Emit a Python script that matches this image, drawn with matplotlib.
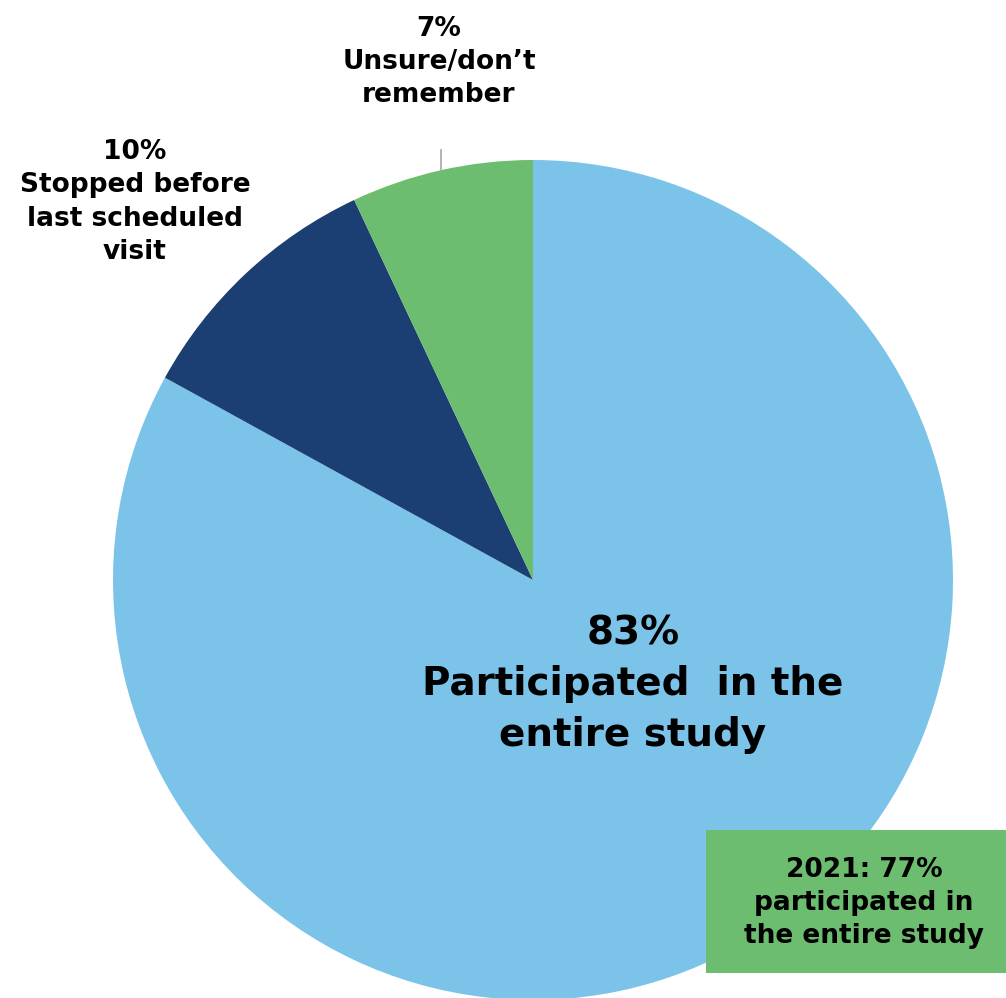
import matplotlib
matplotlib.use("Agg")
import matplotlib.pyplot as plt
from matplotlib.patches import Rectangle

# Data
categories = ["Participated  in the\nentire study", "Stopped before\nlast scheduled\nvisit", "Unsure/don\u2019t\nremember"]
values = [83, 10, 7]
colors = ["#7CC3E9", "#1C3F73", "#6CBD6F"]
note_text = "2021: 77%\nparticipated in\nthe entire study"

W, H = 1006, 998
fig = plt.figure(figsize=(W / 100, H / 100), dpi=100)
ax = fig.add_axes([0, 0, 1, 1])

cx, cy, r = 533, H - 580, 420
ax.pie(values, colors=colors, startangle=90, counterclock=False,
       center=(cx, cy), radius=r, frame=True,
       wedgeprops=dict(linewidth=0))
ax.set_xlim(0, W)
ax.set_ylim(0, H)
ax.set_aspect("equal")
ax.axis("off")

font = ["DejaVu Sans"]

# main label
ax.text(633, H - 684, f"{values[0]}%\n{categories[0]}", ha="center", va="center",
        fontsize=28, fontweight="bold", family=font, linespacing=1.42, color="black")
# 10% label
ax.text(135, H - 202, f"{values[1]}%\n{categories[1]}", ha="center", va="center",
        fontsize=19, fontweight="bold", family=font, linespacing=1.36, color="black")
# 7% label
ax.text(439, H - 62, f"{values[2]}%\n{categories[2]}", ha="center", va="center",
        fontsize=19, fontweight="bold", family=font, linespacing=1.36, color="black")
# leader line
ax.plot([441, 441], [H - 150, H - 170], color="#A6A6A6", linewidth=1.2)

# note box
ax.add_patch(Rectangle((706, H - 973), 300, 143, facecolor="#6CBD6F", edgecolor="none", zorder=5))
ax.text(864, H - 903, note_text, ha="center", va="center", fontsize=19, fontweight="bold",
        family=font, linespacing=1.36, color="black", zorder=6)

fig.savefig("out.png", dpi=100, facecolor="white")
